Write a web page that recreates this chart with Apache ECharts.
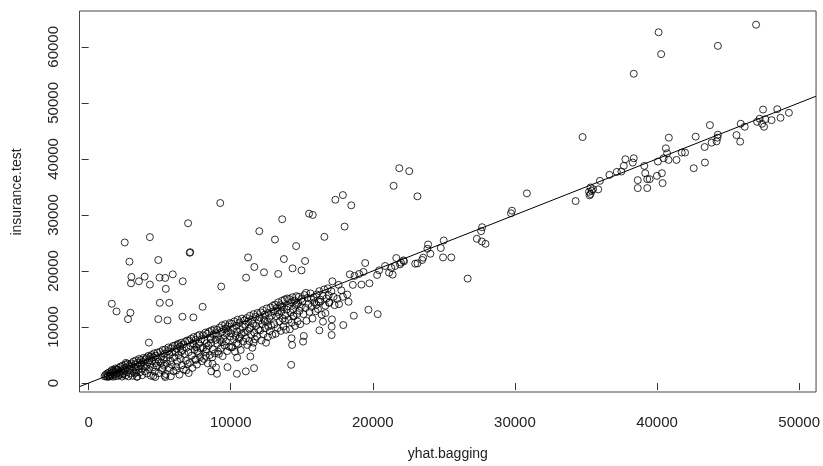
<!DOCTYPE html>
<html>
<head>
<meta charset="utf-8">
<script src="https://cdn.jsdelivr.net/npm/echarts@6/dist/echarts.min.js"></script>
<style>html,body{margin:0;padding:0;background:#fff}#c{width:823px;height:466px}</style>
</head>
<body>
<div id="c"></div>
<script>
// ---- axis / labels ----
var xName = 'yhat.bagging';
var yName = 'insurance.test';
var xTicks = [0, 10000, 20000, 30000, 40000, 50000];
var yTicks = [0, 10000, 20000, 30000, 40000, 50000, 60000];
var xRange = [-644, 51190];
var yRange = [-1598, 66395];
// reference line abline(a, b)
var ablineIntercept = 0;
var ablineSlope = 1;

// ---- data: [yhat.bagging, insurance.test] ----
var upperOutliers = [
[9260,32130],[7000,28520],[4310,26040],[2540,25090],[7110,23250],[7150,23350],[4900,21960],[2870,21660],[5920,19400],[3010,18940],[3940,18990],[4990,18820],[5390,18760],[3540,18160],[2980,17800],[4310,17570],[6620,18160],[5430,16810],[9330,17220],[1630,14150],[1960,12780],[2940,12550],[2770,11410],[5010,14320],[5670,14320],[8020,13610],[4900,11410],[5550,11180],[6600,11840],[7370,11720],[4240,7220],
[21460,35200],[21860,38340],[22560,37810],[23140,33320],[17890,33550],[17360,32710],[18480,31720],[15510,30230],[15770,30000],[13620,29230],[18010,27920],[12010,27100],[16590,26090],[13110,25610],[14600,24440],[11220,22420],[13740,22130],[15230,21780],[11660,20710],[14350,20470],[14980,20110],[12340,19760],[13340,19470],[11080,18810]
];
var lowerScatter = [
[8720,3430],[8960,2790],[8630,2080],[9030,1650],[9770,2840],[10430,1650],[11060,2080],[10450,4560],[10030,6390],[9100,5630],[8230,4850],[7560,4140],[7040,1780],[6860,2250],[6160,2250],[5390,1070],[4690,1070],[5180,2660],[11640,2660],[11380,4740],[3400,1120],[14250,3250],[15090,7400],[15140,8400],[14320,6800],[14280,7990],[17100,8570],[17100,10060],[17120,11360],[17920,10350],[16240,9410],[16490,10950],[16660,12480],[18660,12020],[19690,13080],[20340,12300]
];
var midLine = [
[22980,21300],[21650,22310],[19460,21420],[20300,19290],[20440,20110],[20860,20890],[21140,19700],[21390,19350],[21300,20540],[21560,20890],[21980,21480],[22190,21710],[18380,19400],[18710,19120],[19040,19470],[19340,19830],[19200,17570],[19760,17800],[18590,17520],[17590,17520],[17780,16560],[17150,18160],[17080,16380],[16890,15670],[17240,15390],[17500,15030],[17890,15390],[18200,15800],[18290,14500],[17620,14080],[17310,13900],[16940,14380],[16190,14500],[16280,14910],[16030,13970],[22160,21890],[21910,21180]
];
var highRange = [
[34760,43900],[34270,32480],[30840,33850],[29790,30760],[29720,30300],[27690,27810],[27620,27100],[27320,25740],[27670,25260],[27930,24850],[26670,18640],[24990,25440],[24780,24090],[24940,22420],[25520,22420],[23890,24730],[23840,23960],[24050,23080],[23540,22370],[23470,21960],[23140,21350],
[46970,63950],[40110,62600],[44280,60170],[40290,58700],[38360,55200],
[47460,48810],[48460,48870],[49280,48230],[48690,47340],[48060,46910],[47620,47090],[47220,47160],[47040,46630],[47530,45740],[47390,46270],[45890,46270],[46170,45740],[45590,44250],[45850,43080],[43720,46030],[44280,44320],[44260,43790],[44190,43130],[43840,42900],[43350,42120],[42720,43970],[43370,39350],[42580,38340],[40830,43790],[40620,41890],[40710,41000],[40460,40120],[40810,39820],[41370,39820],[41740,41130],[41970,41130],[40060,39530],[40340,37450],[39990,36970],[40390,35680],[39310,36390],[39170,37450],[39480,36390],[38640,36210],[38640,34790],[39310,34790],[39100,38750],[38360,40120],[38290,39350],[37770,39940],[37660,38750],[37490,37750],[37170,37680],[36650,37150],[35980,36090],[35860,34560],[35320,34910],[35210,34130],[35320,33730],[35400,34300],[35500,34600],[35250,33500]
];
var denseLow = [
[1120,1210],[1190,1480],[1260,1150],[1310,1720],[1370,1340],[1430,1900],[1470,1170],[1540,1580],[1590,2100],[1630,1300],[1680,1850],[1720,1140],[1770,2250],[1810,1560],[1860,1980],[1900,1230],[1940,2420],[1990,1700],[1350,1100],[1650,2350],[1880,2600],[1510,1250],
[2030,2380],[2070,1290],[2120,2700],[2160,1850],[2210,1480],[2250,2950],[2300,2150],[2350,1160],[2390,3100],[2440,2500],[2480,1700],[2530,2250],[2580,3300],[2610,1380],[2660,2800],[2710,1950],[2750,3450],[2800,1200],[2840,2600],[2890,3200],[2930,1750],[2970,2950],[2400,1550],[2620,3600],
[3020,3500],[3060,2200],[3100,1300],[3150,3850],[3190,2800],[3230,1750],[3280,3300],[3330,4050],[3370,2450],[3420,1150],[3460,3650],[3500,2950],[3550,4300],[3590,1900],[3640,3200],[3680,4100],[3730,2550],[3770,1400],[3820,3750],[3860,4500],[3900,2950],[3950,2100],[3990,4250],[3310,1900],[3710,3500],
[4030,3000],[4080,4550],[4110,1700],[4160,3700],[4200,4850],[4250,2450],[4290,4100],[4340,3300],[4380,1300],[4430,5000],[4470,3950],[4520,2800],[4560,4600],[4610,5300],[4650,2050],[4700,3550],[4740,4900],[4790,3100],[4830,5450],[4880,4200],[4920,1750],[4960,3850],[4560,1250],[4350,4700],
[5030,5550],[5080,3600],[5120,4700],[5160,2300],[5210,5900],[5250,4200],[5300,3100],[5340,5200],[5390,6000],[5430,1600],[5480,4500],[5520,3500],[5570,5700],[5610,6350],[5660,2700],[5700,5000],[5750,4000],[5790,6200],[5840,3300],[5880,5500],[5930,6600],[5970,2100],[5350,1300],[5780,1200],
[6030,4600],[6070,6700],[6120,5500],[6160,2900],[6210,6100],[6250,3800],[6300,7000],[6340,5000],[6390,1500],[6430,6500],[6480,4300],[6520,7200],[6570,3200],[6610,5900],[6660,6900],[6700,2400],[6750,5200],[6790,7400],[6840,4000],[6880,6300],[6930,7600],[6970,3400],[6500,5600],[6250,6800],
[7030,5500],[7080,7600],[7120,3600],[7170,6600],[7210,7900],[7260,4900],[7300,2700],[7350,7100],[7390,8200],[7440,5900],[7480,4200],[7530,7700],[7570,6400],[7620,3300],[7660,8400],[7710,5400],[7750,7000],[7800,8600],[7840,4600],[7890,6200],[7930,7800],[7970,3900],[7400,6900],[7650,5700],
[8030,8500],[8070,6300],[8120,4300],[8160,7600],[8210,9000],[8250,5600],[8300,7100],[8340,8800],[8390,3500],[8430,6700],[8480,9200],[8520,5000],[8570,8100],[8610,7200],[8660,9400],[8700,4600],[8750,6000],[8790,8600],[8840,9600],[8880,5300],[8930,7700],[8970,8900],[8300,6000],[8600,7800]
];
var denseHigh = [
[9030,9500],[9070,7000],[9120,8400],[9160,5200],[9210,9900],[9250,7700],[9300,6200],[9340,9100],[9390,10300],[9430,4800],[9480,8000],[9520,9600],[9570,6700],[9610,10500],[9660,7400],[9700,8800],[9750,5700],[9790,10100],[9840,9200],[9880,6500],[9930,10700],[9970,8300],[9380,7300],[9650,9700],
[10030,8900],[10070,10600],[10120,6400],[10160,9700],[10210,7800],[10250,11000],[10300,5600],[10340,8400],[10390,10200],[10430,9200],[10480,11300],[10520,6900],[10570,7900],[10610,10800],[10660,9500],[10700,5900],[10750,8700],[10790,11500],[10840,10000],[10880,7400],[10930,9000],[10970,11200],[10400,7100],[10650,8200],
[11030,10400],[11070,8000],[11120,11600],[11160,6800],[11210,9300],[11250,11000],[11300,7500],[11340,12000],[11390,9900],[11430,8600],[11480,11300],[11520,6300],[11570,10600],[11610,12300],[11660,9000],[11700,7800],[11750,11800],[11790,10200],[11840,8300],[11880,12500],[11930,9600],[11970,11100],[11300,9700],[11600,7200],
[12030,11700],[12070,9400],[12120,12600],[12160,7600],[12210,10500],[12250,13000],[12300,8700],[12340,11300],[12390,12200],[12430,9800],[12480,7200],[12520,13300],[12570,10900],[12610,8200],[12660,12500],[12700,11600],[12750,9300],[12790,13500],[12840,10300],[12880,12000],[12930,8600],[12970,13800],[12400,11000],[12650,10100],
[13030,12800],[13070,10500],[13120,14000],[13160,8800],[13210,11900],[13250,13400],[13300,9800],[13340,14400],[13390,12300],[13430,11000],[13480,13900],[13520,9300],[13570,12800],[13610,14700],[13660,11500],[13700,10100],[13750,13500],[13790,14900],[13840,12100],[13880,9500],[13930,13100],[13970,15100],[13300,12700],[13600,13600],[13800,11100],
[14030,13700],[14070,11300],[14120,15000],[14160,9600],[14210,12600],[14250,14400],[14300,10800],[14340,15300],[14390,13200],[14430,11900],[14480,14700],[14520,10200],[14570,13800],[14610,15500],[14660,12300],[14700,11000],[14750,14300],[14790,15400],[14840,12900],[14880,10500],[14930,13600],[14970,15000],[14400,12000],[14650,14000],
[15050,14600],[15120,12300],[15190,15700],[15260,13400],[15330,11100],[15400,15200],[15470,14100],[15540,12700],[15610,16000],[15680,13600],[15750,11500],[15820,15300],[15890,14400],[15960,12800],[15300,16100],[15650,15000],
[16060,15800],[16140,13200],[16230,16400],[16310,14500],[16400,12200],[16480,15600],[16570,16700],[16650,13800],[16740,15100],[16830,16900],[16920,14300]
];

var allPoints = [].concat(denseLow, denseHigh, midLine, lowerScatter, upperOutliers, highRange);

var lineData = [
  [xRange[0], ablineIntercept + ablineSlope * xRange[0]],
  [xRange[1], ablineIntercept + ablineSlope * xRange[1]]
];

var FONT = "'Liberation Sans', Arial, sans-serif";
var chart = echarts.init(document.getElementById('c'), null, {renderer: 'canvas'});
chart.setOption({
  animation: false,
  backgroundColor: '#ffffff',
  grid: {left: 79.5, right: 3, top: 11, bottom: 72, show: true, borderColor: '#444', borderWidth: 1, backgroundColor: 'transparent'},
  xAxis: {
    type: 'value', min: xRange[0], max: xRange[1],
    name: xName, nameLocation: 'middle', nameGap: 55,
    nameTextStyle: {fontFamily: FONT, fontSize: 14, color: '#222'},
    axisLine: {show: false},
    splitLine: {show: false},
    axisTick: {show: true, inside: false, length: 7, customValues: xTicks, lineStyle: {color: '#333', width: 1}},
    axisLabel: {show: true, customValues: xTicks, margin: 23, fontFamily: FONT, fontSize: 15, color: '#222',
      formatter: function (v) { return String(v); }}
  },
  yAxis: {
    type: 'value', min: yRange[0], max: yRange[1],
    name: yName, nameLocation: 'middle', nameGap: 55,
    nameTextStyle: {fontFamily: FONT, fontSize: 14, color: '#222', padding: [0, 0, 0, 19]},
    axisLine: {show: false},
    splitLine: {show: false},
    axisTick: {show: true, inside: false, length: 7, customValues: yTicks, lineStyle: {color: '#333', width: 1}},
    axisLabel: {show: true, customValues: yTicks, rotate: 90, margin: 18, fontFamily: FONT, fontSize: 15, color: '#222',
      formatter: function (v) { return String(v); }}
  },
  series: [
    {
      type: 'scatter', data: allPoints, symbol: 'circle', symbolSize: 7,
      itemStyle: {color: 'rgba(0,0,0,0)', borderColor: '#000', borderWidth: 1},
      emphasis: {disabled: true}, z: 2
    },
    {
      type: 'line', data: lineData, symbol: 'none', silent: true,
      lineStyle: {color: '#000', width: 1}, z: 3
    }
  ]
});
</script>
</body>
</html>
